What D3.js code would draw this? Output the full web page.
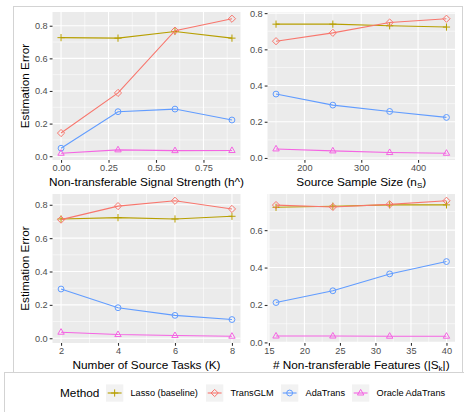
<!DOCTYPE html>
<html>
<head>
<meta charset="utf-8">
<script src="https://cdn.jsdelivr.net/npm/d3@7"></script>
<style>
  body { margin: 0; background: #fff; }
  svg { font-family: "Liberation Sans", Arial, sans-serif; }
</style>
</head>
<body>
<script>
// methods and colours (ggplot hue palette)
const methods = ["Lasso (baseline)", "TransGLM", "AdaTrans", "Oracle AdaTrans"];
const colors = ["#B79F00", "#F8766D", "#619CFF", "#F564E3"];
const shapes = ["plus", "diamond", "circle", "triangle"];

// panel 1: non-transferable signal strength
const signalX = [0, 0.3, 0.6, 0.9];
const signalLasso = [0.727, 0.724, 0.765, 0.724];
const signalTrans = [0.142, 0.388, 0.770, 0.843];
const signalAda = [0.049, 0.273, 0.289, 0.222];
const signalOracle = [0.018, 0.039, 0.034, 0.035];
const signalTicks = [0, 0.25, 0.5, 0.75];
const signalTickLabels = ["0.00", "0.25", "0.50", "0.75"];

// panel 2: source sample size
const sampleX = [150, 250, 350, 450];
const sampleLasso = [0.739, 0.739, 0.730, 0.723];
const sampleTrans = [0.645, 0.691, 0.748, 0.769];
const sampleAda = [0.353, 0.292, 0.257, 0.224];
const sampleOracle = [0.050, 0.039, 0.030, 0.026];
const sampleTicks = [200, 300, 400];

// panel 3: number of source tasks
const tasksX = [2, 4, 6, 8];
const tasksLasso = [0.715, 0.723, 0.715, 0.731];
const tasksTrans = [0.711, 0.792, 0.824, 0.775];
const tasksAda = [0.295, 0.183, 0.137, 0.112];
const tasksOracle = [0.036, 0.022, 0.016, 0.012];
const tasksTicks = [2, 4, 6, 8];

// panel 4: number of non-transferable features
const featX = [16, 24, 32, 40];
const featLasso = [0.722, 0.728, 0.735, 0.735];
const featTrans = [0.734, 0.724, 0.738, 0.757];
const featAda = [0.213, 0.276, 0.366, 0.432];
const featOracle = [0.034, 0.034, 0.033, 0.033];
const featTicks = [15, 20, 25, 30, 35, 40];

const errTicks = [0, 0.2, 0.4, 0.6, 0.8];

const W = 464, H = 412;
const tickFont = "9.2px", titleFont = "11.8px";
const svg = d3.select("body").append("svg").attr("width", W).attr("height", H);

// outer frames
svg.append("rect").attr("x", 4.5).attr("y", 372.5).attr("width", 480).attr("height", 80)
    .attr("fill", "#fff").attr("stroke", "#d3d3d3");
svg.append("rect").attr("x", 13.5).attr("y", 6.5).attr("width", 449).attr("height", 366)
    .attr("fill", "#fff").attr("stroke", "#d3d3d3");

const panels = [
    { x: signalX, ys: [signalLasso, signalTrans, signalAda, signalOracle], xt: signalTicks,
      xl: signalTickLabels, left: 52.5, top: 12, w: 188, h: 148, ylab: true,
      title: [["Non-transferable Signal Strength (h^)", 0]] },
    { x: sampleX, ys: [sampleLasso, sampleTrans, sampleAda, sampleOracle], xt: sampleTicks,
      left: 267.5, top: 12, w: 187.5, h: 148, ylab: false,
      title: [["Source Sample Size (n", 0], ["S", 1], [")", 0]] },
    { x: tasksX, ys: [tasksLasso, tasksTrans, tasksAda, tasksOracle], xt: tasksTicks,
      left: 52.5, top: 194, w: 188, h: 149, ylab: true,
      title: [["Number of Source Tasks (K)", 0]] },
    { x: featX, ys: [featLasso, featTrans, featAda, featOracle], xt: featTicks,
      left: 267.5, top: 194, w: 187.5, h: 149, ylab: false,
      title: [["# Non-transferable Features (|S", 0], ["k", 1], ["|)", 0]] }
];

function expand(ext) {
    const pad = (ext[1] - ext[0]) * 0.05;
    return [ext[0] - pad, ext[1] + pad];
}

function minors(ticks, dom) {
    const step = ticks[1] - ticks[0];
    const out = [];
    for (let i = -1; i < ticks.length; i++) {
        const m = ticks[0] + step * (i + 0.5);
        if (m > dom[0] && m < dom[1]) out.push(m);
    }
    return out;
}

function symbolPath(shape) {
    if (shape === "plus") return "M-3.6,0H3.6M0,-3.6V3.6";
    if (shape === "diamond") return "M0,-3.6L3.6,0L0,3.6L-3.6,0Z";
    if (shape === "circle") return d3.symbol(d3.symbolCircle, 27)();
    return "M0,-3.6L3.2,2L-3.2,2Z";
}

panels.forEach(function (p) {
    const g = svg.append("g").attr("transform", "translate(" + p.left + "," + p.top + ")");
    const xDom = expand(d3.extent(p.x));
    const yDom = expand(d3.extent(p.ys.flat()));
    const xScale = d3.scaleLinear().domain(xDom).range([0, p.w]);
    const yScale = d3.scaleLinear().domain(yDom).range([p.h, 0]);
    const yt = errTicks.filter(t => t >= yDom[0] && t <= yDom[1]);

    g.append("rect").attr("width", p.w).attr("height", p.h).attr("fill", "#EBEBEB");

    // grid
    g.selectAll(".xminor").data(minors(p.xt, xDom)).enter().append("line")
        .attr("x1", d => xScale(d)).attr("x2", d => xScale(d)).attr("y1", 0).attr("y2", p.h)
        .attr("stroke", "#fff").attr("stroke-width", 0.55);
    g.selectAll(".yminor").data(minors(errTicks, yDom)).enter().append("line")
        .attr("y1", d => yScale(d)).attr("y2", d => yScale(d)).attr("x1", 0).attr("x2", p.w)
        .attr("stroke", "#fff").attr("stroke-width", 0.55);
    g.selectAll(".xmajor").data(p.xt).enter().append("line")
        .attr("x1", d => xScale(d)).attr("x2", d => xScale(d)).attr("y1", 0).attr("y2", p.h)
        .attr("stroke", "#fff").attr("stroke-width", 1.1);
    g.selectAll(".ymajor").data(yt).enter().append("line")
        .attr("y1", d => yScale(d)).attr("y2", d => yScale(d)).attr("x1", 0).attr("x2", p.w)
        .attr("stroke", "#fff").attr("stroke-width", 1.1);

    // axes
    const xAxis = g.append("g").attr("transform", "translate(0," + p.h + ")")
        .call(d3.axisBottom(xScale).tickValues(p.xt).tickSize(2.8).tickPadding(2)
            .tickFormat((d, i) => p.xl ? p.xl[i] : d3.format("d")(d)));
    const yAxis = g.append("g")
        .call(d3.axisLeft(yScale).tickValues(yt).tickSize(2.8).tickPadding(2)
            .tickFormat(d3.format(".1f")));
    [xAxis, yAxis].forEach(function (a) {
        a.select(".domain").remove();
        a.selectAll("line").attr("stroke", "#333").attr("stroke-width", 1.1);
        a.selectAll("text").attr("fill", "#4D4D4D").attr("font-size", tickFont)
            .attr("font-family", "Liberation Sans, Arial, sans-serif");
    });

    // series
    p.ys.forEach(function (vals, k) {
        const pts = vals.map((v, i) => [p.x[i], v]);
        g.append("path").datum(pts)
            .attr("fill", "none").attr("stroke", colors[k]).attr("stroke-width", 1.1)
            .attr("d", d3.line().x(d => xScale(d[0])).y(d => yScale(d[1])));
        g.selectAll(".pt" + k).data(pts).enter().append("path")
            .attr("transform", d => "translate(" + xScale(d[0]) + "," + yScale(d[1]) + ")")
            .attr("d", symbolPath(shapes[k]))
            .attr("fill", "none").attr("stroke", colors[k]).attr("stroke-width", 1);
    });

    // axis titles
    const t = svg.append("text").attr("x", p.left + p.w / 2).attr("y", p.top + p.h + 25.5)
        .attr("text-anchor", "middle").attr("font-size", titleFont).attr("fill", "#000");
    p.title.forEach(function (part) {
        const ts = t.append("tspan").text(part[0]);
        if (part[1]) ts.attr("font-size", "8px").attr("dy", 2.5);
        else if (t.selectAll("tspan").size() > 1) ts.attr("dy", -2.5);
    });

    if (p.ylab) {
        svg.append("text")
            .attr("transform", "translate(29," + (p.top + p.h / 2) + ")rotate(-90)")
            .attr("text-anchor", "middle").attr("font-size", titleFont).attr("fill", "#000")
            .text("Estimation Error");
    }
});

// legend
const legY = 393;
svg.append("text").attr("x", 60).attr("y", legY + 4).attr("font-size", titleFont).text("Method");
const keyX = [106, 206, 281, 352];
methods.forEach(function (m, k) {
    const lg = svg.append("g").attr("transform", "translate(" + keyX[k] + "," + (legY - 8.6) + ")");
    lg.append("rect").attr("width", 17.3).attr("height", 17.3).attr("fill", "#F2F2F2");
    lg.append("line").attr("x1", 1.7).attr("x2", 15.6).attr("y1", 8.6).attr("y2", 8.6)
        .attr("stroke", colors[k]).attr("stroke-width", 1.1);
    lg.append("path").attr("transform", "translate(8.65,8.6)").attr("d", symbolPath(shapes[k]))
        .attr("fill", "none").attr("stroke", colors[k]).attr("stroke-width", 1);
    lg.append("text").attr("x", 24.5).attr("y", 11.8).attr("font-size", tickFont)
        .attr("fill", "#000").text(m);
});
</script>
</body>
</html>
